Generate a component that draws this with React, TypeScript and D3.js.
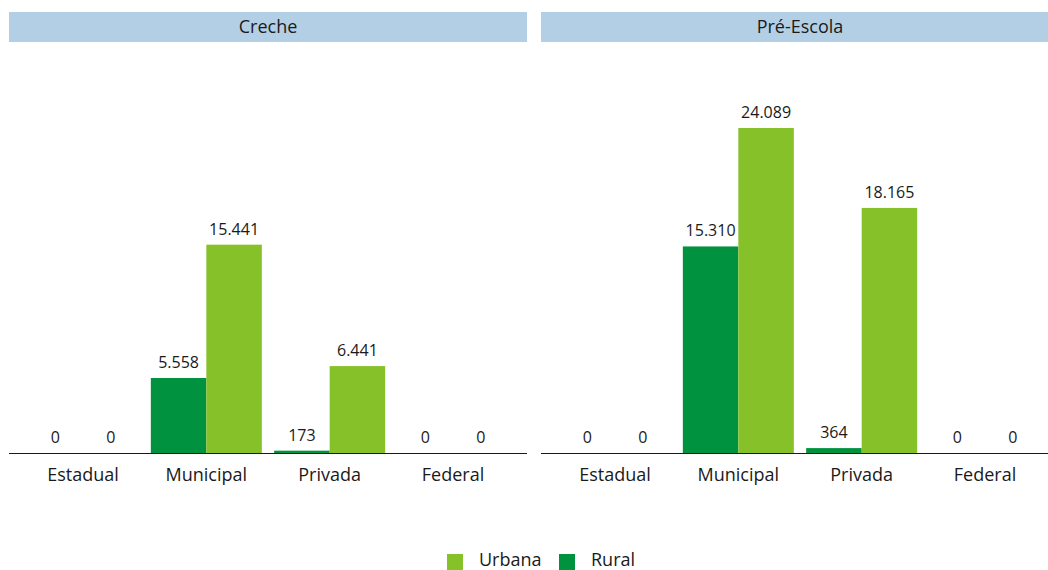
import React from 'react';
import * as d3 from 'd3';

const panels = ['Creche', 'Pré-Escola'];
const categories = ['Estadual', 'Municipal', 'Privada', 'Federal'];
const series = ['Rural', 'Urbana'];
const legendOrder = ['Urbana', 'Rural'];
const colors: Record<string, string> = { Urbana: '#86c129', Rural: '#00923f' };

const rural = [
  [0, 5558, 173, 0],
  [0, 15310, 364, 0],
];
const urbana = [
  [0, 15441, 6441, 0],
  [0, 24089, 18165, 0],
];

const fmt = (v: number) => d3.format(',')(v).replace(/,/g, '.');

const W = 1048;
const H = 570;
const panelW = 518;
const panelX = [9, 541];
const stripTop = 12;
const stripH = 30;
const base = 453;
const font = '"Open Sans", "Noto Sans", sans-serif';

const App = () => {
  const y = d3.scaleLinear().domain([0, 24089]).range([base, 128]);
  // ggplot-like discrete expansion: 0.6 units on each side
  const xUnit = d3.scaleLinear().domain([0.4, 4.6]).range([0, panelW]);
  const barW = xUnit(1.45) - xUnit(1);

  return (
    <svg width={W} height={H} style={{ position: 'absolute', left: 0, top: 0, background: '#fff' }}>
      {panels.map((p, pi) => {
        const x0 = panelX[pi];
        return (
          <g key={p} transform={`translate(${x0},0)`}>
            <rect x={0} y={stripTop} width={panelW} height={stripH} fill="#b3cfe5" />
            <text x={panelW / 2} y={stripTop + stripH / 2} dy="0.35em" textAnchor="middle"
              fontFamily={font} fontSize={18} fill="#1a1a1a">{p}</text>
            {categories.map((c, ci) => {
              const cx = xUnit(ci + 1);
              const vals = [rural[pi][ci], urbana[pi][ci]];
              return (
                <g key={c}>
                  {series.map((s, si) => {
                    const bx = cx - barW + si * barW;
                    const v = vals[si];
                    return (
                      <g key={s}>
                        <rect x={bx} y={y(v)} width={barW} height={base - y(v)} fill={colors[s]} />
                        <text x={bx + barW / 2} y={y(v) - 10} textAnchor="middle"
                          fontFamily={font} fontSize={16} fill="#1a1a1a">{fmt(v)}</text>
                      </g>
                    );
                  })}
                  <text x={cx} y={475} dy="0.35em" textAnchor="middle"
                    fontFamily={font} fontSize={18} fill="#1a1a1a">{c}</text>
                </g>
              );
            })}
            <line x1={0} x2={panelW} y1={base + 0.5} y2={base + 0.5} stroke="#1a1a1a" strokeWidth={1} />
          </g>
        );
      })}
      <g>
        {legendOrder.map((s, i) => {
          const lx = [447, 559][i];
          return (
            <g key={s}>
              <rect x={lx} y={554} width={16} height={16} fill={colors[s]} />
              <text x={lx + 32} y={560} dy="0.35em" fontFamily={font} fontSize={18} fill="#1a1a1a">{s}</text>
            </g>
          );
        })}
      </g>
    </svg>
  );
};

export default App;
